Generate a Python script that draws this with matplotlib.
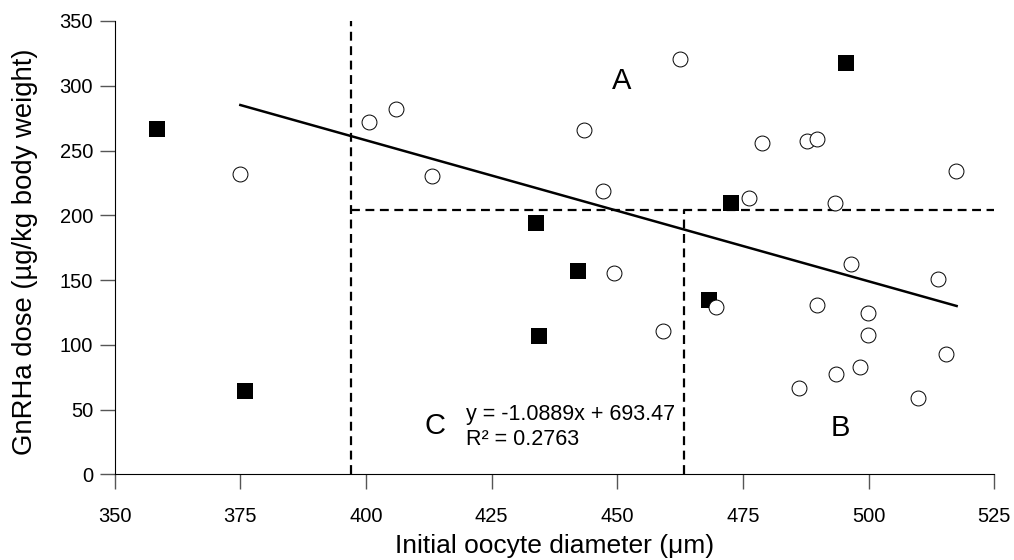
import matplotlib.pyplot as plt
import numpy as np

plt.rcParams['font.family'] = ['Liberation Sans', 'DejaVu Sans']

# filled squares
sq_x = [358.4, 376.0, 495.4, 472.7, 433.9, 442.1, 434.4, 468.2]
sq_y = [266.6, 64.6, 317.8, 209.3, 194.3, 157.0, 107.0, 134.6]

# open circles
ci_x = [374.9, 400.6, 405.9, 413.2, 462.5, 443.3, 478.8, 487.8, 489.7, 517.3,
        447.1, 476.2, 493.3, 496.4, 449.3, 513.7, 469.6, 459.0, 489.7, 499.8,
        499.8, 515.4, 498.2, 493.5, 486.2, 509.8]
ci_y = [232.1, 271.8, 282.3, 230.3, 320.4, 266.1, 255.8, 257.4, 258.7, 234.0,
        218.5, 213.4, 209.5, 162.6, 155.2, 150.6, 129.0, 110.9, 130.7, 124.8,
        107.6, 92.9, 82.6, 77.5, 66.4, 58.9]

slope, intercept = -1.0889, 693.47
fit_x = np.array([375.0, 517.5])

x_cut = 397
x_cut2 = 463.3
y_cut = 204

fig = plt.figure(figsize=(10.14, 5.6), dpi=100)
ax = fig.add_axes([0.1131, 0.153, 0.8675, 0.8095])

ax.plot([x_cut, x_cut], [0, 350], 'k--', lw=1.6, dashes=(4, 2.5), zorder=1)
ax.plot([x_cut, 525], [y_cut, y_cut], 'k--', lw=1.6, dashes=(4, 2.5), zorder=1)
ax.plot([x_cut2, x_cut2], [0, y_cut], 'k--', lw=1.6, dashes=(4, 2.5), zorder=1)

ax.plot(fit_x, slope * fit_x + intercept, color='black', lw=1.8, zorder=2)

ax.scatter(sq_x, sq_y, marker='s', s=118, color='black', zorder=3, linewidths=0)
ax.scatter(ci_x, ci_y, marker='o', s=115, facecolor='white', edgecolor='black',
           linewidths=0.7, zorder=4)

ax.text(450.8, 304, 'A', fontsize=21, ha='center', va='center')
ax.text(494.3, 36, 'B', fontsize=21, ha='center', va='center')
ax.text(413.8, 37, 'C', fontsize=21, ha='center', va='center')
ax.text(419.8, 46, 'y = -1.0889x + 693.47', fontsize=15.5, ha='left', va='center')
ax.text(419.8, 27, 'R² = 0.2763', fontsize=15.5, ha='left', va='center')

ax.set_xlim(350, 525)
ax.set_ylim(0, 350)
ax.set_xticks(np.arange(350, 526, 25))
ax.set_yticks(np.arange(0, 351, 50))
ax.spines['top'].set_visible(False)
ax.spines['right'].set_visible(False)
ax.tick_params(axis='both', direction='out', length=10.5, width=1,
               color='#555555', labelsize=14.5, pad=5)
ax.tick_params(axis='x', pad=13)

ax.set_xlabel('Initial oocyte diameter (\u03bcm)', fontsize=19)
ax.set_ylabel('GnRHa dose (\u00b5g/kg body weight)', fontsize=19.8)
ax.xaxis.set_label_coords(0.5, -0.132)
ax.yaxis.set_label_coords(-0.0877, 0.491)

fig.savefig('out.png', dpi=100)
